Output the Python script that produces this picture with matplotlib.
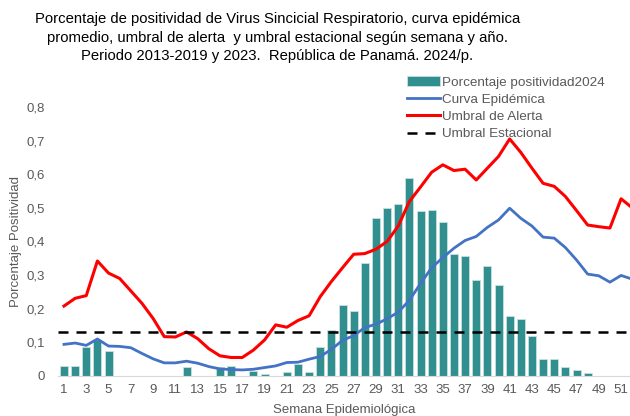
import numpy as np
import matplotlib
matplotlib.use("Agg")
import matplotlib.pyplot as plt

plt.rcParams['font.family'] = ['Liberation Sans', 'DejaVu Sans']

# semanas epidemiologicas
semanas = list(range(1, 53))

# porcentaje de positividad 2024 (0 = sin barra)
positividad_2024 = [0.03, 0.03, 0.085, 0.107, 0.075, 0, 0, 0, 0, 0,
                    0, 0.028, 0, 0, 0.028, 0.03, 0, 0.016, 0.007, 0,
                    0.012, 0.035, 0.012, 0.087, 0.136, 0.211, 0.193, 0.337, 0.469, 0.499,
                    0.512, 0.589, 0.491, 0.495, 0.459, 0.362, 0.356, 0.286, 0.327, 0.272,
                    0.178, 0.170, 0.120, 0.05, 0.05, 0.028, 0.017, 0.008, 0, 0,
                    0, 0]

curva_epidemica = [0.094, 0.098, 0.091, 0.110, 0.089, 0.088, 0.084, 0.067, 0.051, 0.039,
                   0.039, 0.044, 0.038, 0.028, 0.021, 0.019, 0.018, 0.020, 0.025, 0.030,
                   0.040, 0.041, 0.050, 0.058, 0.079, 0.106, 0.120, 0.144, 0.154, 0.170,
                   0.190, 0.225, 0.275, 0.322, 0.352, 0.380, 0.403, 0.415, 0.442, 0.464,
                   0.499, 0.469, 0.446, 0.413, 0.410, 0.382, 0.345, 0.303, 0.298, 0.279,
                   0.299, 0.288]

umbral_alerta = [0.208, 0.231, 0.239, 0.342, 0.306, 0.290, 0.253, 0.216, 0.171, 0.117,
                 0.116, 0.131, 0.111, 0.081, 0.060, 0.055, 0.055, 0.077, 0.107, 0.152,
                 0.145, 0.165, 0.179, 0.236, 0.281, 0.322, 0.362, 0.364, 0.377, 0.400,
                 0.446, 0.519, 0.562, 0.606, 0.628, 0.611, 0.615, 0.583, 0.618, 0.653,
                 0.705, 0.665, 0.618, 0.573, 0.564, 0.534, 0.492, 0.449, 0.444, 0.440,
                 0.527, 0.500]

umbral_estacional = 0.13

titulo = ("Porcentaje de positividad de Virus Sincicial Respiratorio, curva epidémica\n"
          "promedio, umbral de alerta  y umbral estacional según semana y año.\n"
          "Periodo 2013-2019 y 2023.  República de Panamá. 2024/p.")

gris = '#595959'

fig = plt.figure(figsize=(6.3, 4.16), dpi=100)
ax = fig.add_axes([0.0927, 0.0962, 0.9073, 0.6466])

ax.bar(semanas, positividad_2024, width=0.72, color='#31908f', edgecolor='#c8e0df',
       linewidth=0.6, label='Porcentaje positividad2024', zorder=2)
ax.plot(semanas, curva_epidemica, color='#4472c4', lw=2.0, label='Curva Epidémica', zorder=3)
ax.plot(semanas, umbral_alerta, color='#ff0000', lw=2.2, label='Umbral de Alerta', zorder=4)
ax.axhline(umbral_estacional, color='black', lw=1.8, ls=(0, (4, 3.2)),
           label='Umbral Estacional', zorder=5)

ax.set_xlim(0.5, 51.8)
ax.set_ylim(0, 0.8)
ax.set_xticks(semanas[::2])
ax.set_xticklabels([str(s) for s in semanas[::2]])
yt = np.arange(0, 0.81, 0.1)
ax.set_yticks(yt)
ax.set_yticklabels(['0'] + [f'{v:.1f}'.replace('.', ',') for v in yt[1:]])
ax.tick_params(axis='both', length=0, labelsize=9.5, colors=gris, pad=6)
ax.tick_params(axis='y', pad=10)

for s in ['top', 'right', 'left']:
    ax.spines[s].set_visible(False)
ax.spines['bottom'].set_color('#d9d9d9')

ax.set_ylabel('Porcentaje Positividad', fontsize=9.5, color=gris, labelpad=3)
ax.set_xlabel('Semana Epidemiológica', fontsize=9.5, color=gris, labelpad=5.5)

fig.text(0.44, 0.97, titulo, ha='center', va='top', fontsize=10.7,
         linespacing=1.4, color='black')

handles, labels = ax.get_legend_handles_labels()
order = [3, 0, 1, 2]
fig.legend([handles[i] for i in order], [labels[i] for i in order],
           loc='upper left', bbox_to_anchor=(0.638, 0.83), frameon=False,
           fontsize=9.7, labelcolor=gris, handlelength=2.4, handletextpad=0.2,
           labelspacing=0.36, borderaxespad=0)

fig.savefig('out.png', dpi=100)
